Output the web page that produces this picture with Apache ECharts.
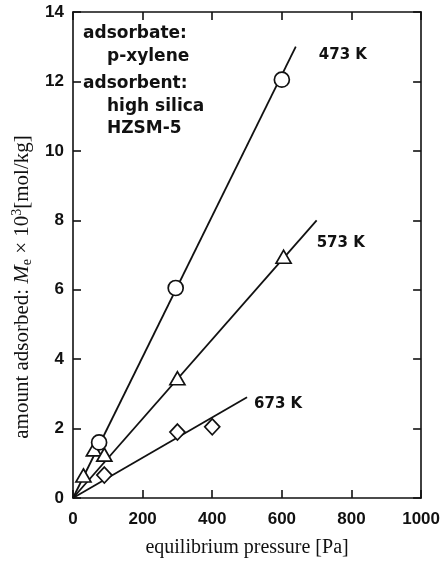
<!DOCTYPE html>
<html>
<head>
<meta charset="utf-8">
<script src="https://cdn.jsdelivr.net/npm/echarts@6/dist/echarts.min.js"></script>
<style>
  html, body { margin: 0; padding: 0; background: #fff; }
  #chart { width: 443px; height: 564px; }
</style>
</head>
<body>
<div id="chart"></div>
<script>
// Axis ranges and tick spacing
const xMin = 0, xMax = 1000, xStep = 200;
const yMin = 0, yMax = 14, yStep = 2;

// Measured uptake of p-xylene on high silica HZSM-5 (pressure [Pa], amount [mol/kg x 10^3])
const p473 = [75, 295, 600];
const q473 = [1.6, 6.05, 12.05];

const p573 = [30, 60, 90, 300, 605];
const q573 = [0.65, 1.4, 1.25, 3.45, 6.95];

const p673 = [90, 300, 400];
const q673 = [0.66, 1.9, 2.05];

// Straight Henry-law lines through the origin (start and end points)
const fitP473 = [0, 640];
const fitQ473 = [0, 13.0];
const fitP573 = [0, 700];
const fitQ573 = [0, 8.0];
const fitP673 = [0, 500];
const fitQ673 = [0, 2.9];

// Temperature labels, anchored in data space at their left-middle point
const tempNames = ['473 K', '573 K', '673 K'];
const tempLabelP = [706, 700, 520];
const tempLabelQ = [12.76, 7.35, 2.71];

// Description block
const noteLines = ['adsorbate:', 'p-xylene', 'adsorbent:', 'high silica', 'HZSM-5'];

const zip = (a, b) => a.map((v, i) => [v, b[i]]);

const INK = '#111';
const tickFont = { fontFamily: 'Liberation Sans', fontWeight: 'bold', fontSize: 17, color: INK };

function valueAxis(min, max, step, pos, withLabels, margin) {
  return {
    type: 'value', min: min, max: max, interval: step, position: pos,
    axisLine: { show: true, onZero: false, lineStyle: { color: INK, width: 1.6 } },
    axisTick: { show: true, inside: true, length: 8, lineStyle: { color: INK, width: 1.6 } },
    axisLabel: Object.assign({ show: withLabels, margin: margin, formatter: v => String(v) }, tickFont),
    splitLine: { show: false }
  };
}

const chart = echarts.init(document.getElementById('chart'), null, { renderer: 'canvas' });

function fitLine(p, q) {
  return {
    type: 'line', xAxisIndex: 0, yAxisIndex: 0, data: zip(p, q),
    symbol: 'none', silent: true, z: 2,
    lineStyle: { color: INK, width: 1.8 }
  };
}

function markers(p, q, symbol, size) {
  return {
    type: 'scatter', xAxisIndex: 0, yAxisIndex: 0, data: zip(p, q),
    symbol: symbol, symbolSize: size, z: 3,
    itemStyle: { color: '#fff', borderColor: INK, borderWidth: 1.7, opacity: 1 }
  };
}

const option = {
  animation: false,
  backgroundColor: '#fff',
  grid: { left: 73, right: 20, top: 12, bottom: 66 },
  xAxis: [
    Object.assign(valueAxis(xMin, xMax, xStep, 'bottom', true, 13), {
      name: 'equilibrium pressure [Pa]',
      nameLocation: 'middle',
      nameGap: 40,
      nameTextStyle: { fontFamily: 'Liberation Serif', fontSize: 20, color: INK }
    }),
    valueAxis(xMin, xMax, xStep, 'top', false, 8)
  ],
  yAxis: [
    valueAxis(yMin, yMax, yStep, 'left', true, 9),
    valueAxis(yMin, yMax, yStep, 'right', false, 8)
  ],
  series: [
    fitLine(fitP473, fitQ473),
    fitLine(fitP573, fitQ573),
    fitLine(fitP673, fitQ673),
    markers(p573, q573, 'triangle', [15, 13]),
    markers(p673, q673, 'diamond', [15, 16]),
    markers(p473, q473, 'circle', 15)
  ]
};
chart.setOption(option);

// Text drawn on top of the plot
const noteX = [83, 107, 83, 107, 107];
const noteY = [34, 57, 84, 107, 129];
const graphics = noteLines.map((t, i) => ({
  type: 'text', x: noteX[i], y: noteY[i], z: 10,
  style: {
    text: t, fill: INK, align: 'left', verticalAlign: 'middle',
    font: 'bold 17px "DejaVu Sans"'
  }
}));

tempNames.forEach((t, i) => {
  const px = chart.convertToPixel({ xAxisIndex: 0, yAxisIndex: 0 }, [tempLabelP[i], tempLabelQ[i]]);
  graphics.push({
    type: 'text', x: px[0], y: px[1], z: 10,
    style: {
      text: t, fill: INK, align: 'left', verticalAlign: 'middle',
      font: 'bold 15px "DejaVu Sans"'
    }
  });
});

// Vertical axis title with italic symbol, subscript and superscript
graphics.push({
  type: 'text', x: 22, y: 287, rotation: Math.PI / 2, z: 10,
  style: {
    text: '{a|amount adsorbed: }{m|M}{s|e}{a| × 10}{u|3}{a|[mol/kg]}',
    align: 'center', verticalAlign: 'middle', fill: INK,
    rich: {
      a: { fontFamily: 'Liberation Serif', fontSize: 21, lineHeight: 28, fill: INK },
      m: { fontFamily: 'Liberation Serif', fontStyle: 'italic', fontSize: 22, lineHeight: 28, fill: INK },
      s: { fontFamily: 'Liberation Serif', fontSize: 14, lineHeight: 28, verticalAlign: 'bottom', padding: [0, 0, 2, 0], fill: INK },
      u: { fontFamily: 'Liberation Serif', fontSize: 14, lineHeight: 28, verticalAlign: 'top', padding: [2, 0, 0, 0], fill: INK }
    }
  }
});

chart.setOption({ graphic: graphics });
</script>
</body>
</html>
